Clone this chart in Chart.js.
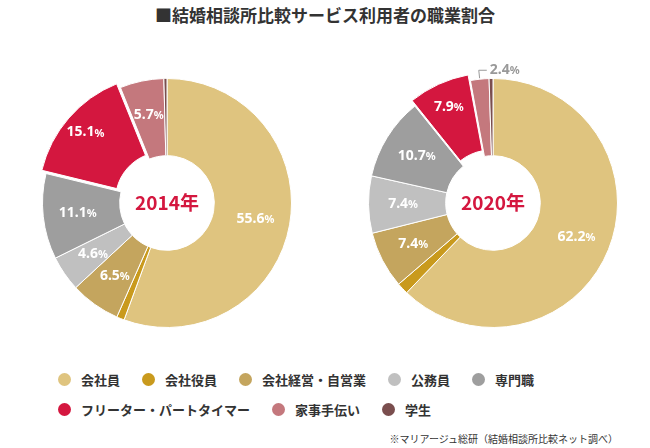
<!DOCTYPE html>
<html><head><meta charset="utf-8">
<script src="https://cdn.jsdelivr.net/npm/chart.js@4"></script>
<style>
body{margin:0;background:#fff;font-family:"Noto Sans CJK JP","Noto Sans",sans-serif;color:#333;}
#wrap{position:relative;width:650px;height:448px;}
#title{position:absolute;top:2px;left:0;width:650px;text-align:center;font-size:17px;font-weight:bold;color:#333;}
.pie{position:absolute;top:58px;width:290px;height:290px;}
#legend{position:absolute;left:58px;top:370px;width:560px;font-size:13px;font-weight:bold;color:#333;}
.row{display:flex;gap:0;margin-bottom:11px;}
.it{display:flex;align-items:center;margin-right:22px;}
.dot{width:13px;height:13px;border-radius:50%;margin-right:10px;}
#note{position:absolute;right:32px;top:431px;font-size:10px;color:#333;}
</style></head>
<body><div id="wrap">
<div id="title">■結婚相談所比較サービス利用者の職業割合</div>
<div class="pie" style="left:22px"><canvas id="c1"></canvas></div>
<div class="pie" style="left:348px"><canvas id="c2"></canvas></div>
<div id="legend"></div>
<div id="note">※マリアージュ総研（結婚相談所比較ネット調べ）</div>
</div>
<script>
const categories = ["会社員","会社役員","会社経営・自営業","公務員","専門職","フリーター・パートタイマー","家事手伝い","学生"];
const values2014 = [55.6, 1.0, 6.5, 4.6, 11.1, 15.1, 5.7, 0.4];
const values2020 = [62.2, 1.5, 7.4, 7.4, 10.7, 7.9, 2.4, 0.5];
const colors = ["#dfc47f","#c99a1d","#c4a55e","#c0c0c0","#9e9e9e","#d4173f","#c4787d","#7a4e4e"];
const offsets2014 = [0,0,0,0,0,18,0,0];
const offsets2020 = [0,0,0,0,0,16,0,0];

const leg = document.getElementById("legend");
[[0,1,2,3,4],[5,6,7]].forEach(r => {
  const row = document.createElement("div"); row.className = "row";
  r.forEach(i => {
    row.innerHTML += `<div class="it"><span class="dot" style="background:${colors[i]}"></span>${categories[i]}</div>`;
  });
  leg.appendChild(row);
});

const labelPlugin = {
  id: "labels",
  afterDraw(chart, args, opts) {
    const ctx = chart.ctx;
    const meta = chart.getDatasetMeta(0);
    const data = chart.data.datasets[0].data;
    ctx.save();
    ctx.textAlign = "center"; ctx.textBaseline = "middle";
    meta.data.forEach((arc, i) => {
      const v = data[i];
      if (v < 2) return;
      const a = (arc.startAngle + arc.endAngle) / 2;
      const off = chart.data.datasets[0].offset[i] || 0;
      const txt = v.toFixed(1);
      if (opts.outside && opts.outside.includes(i)) {
        const r1 = arc.outerRadius + 1, r2 = arc.outerRadius + 9;
        const x1 = arc.x + Math.cos(a) * r1, y1 = arc.y + Math.sin(a) * r1;
        const x2 = arc.x + Math.cos(a) * r2, y2 = arc.y + Math.sin(a) * r2;
        ctx.strokeStyle = "#999"; ctx.lineWidth = 1;
        ctx.beginPath(); ctx.moveTo(x1, y1); ctx.lineTo(x2, y2); ctx.lineTo(x2 + 8, y2); ctx.stroke();
        ctx.textAlign = "left";
        drawPct(ctx, txt, x2 + 11, y2, "#999");
        ctx.textAlign = "center";
        return;
      }
      const r = (arc.innerRadius + arc.outerRadius) / 2 + off + 4;
      drawPct(ctx, txt, arc.x + Math.cos(a) * r, arc.y + Math.sin(a) * r, "#fff");
    });
    ctx.font = "bold 19px 'Noto Sans CJK JP', sans-serif";
    ctx.fillStyle = "#d4173f"; ctx.textAlign = "center";
    ctx.fillText(opts.center, meta.data[0].x, meta.data[0].y);
    ctx.restore();
  }
};
function drawPct(ctx, txt, x, y, color) {
  ctx.fillStyle = color;
  ctx.font = "bold 14px 'Noto Sans', sans-serif";
  const w1 = ctx.measureText(txt).width;
  ctx.font = "bold 11px 'Noto Sans', sans-serif";
  const w2 = ctx.measureText("%").width;
  const left = ctx.textAlign === "left" ? x : x - (w1 + w2) / 2;
  const ta = ctx.textAlign;
  ctx.textAlign = "left";
  ctx.font = "bold 14px 'Noto Sans', sans-serif";
  ctx.fillText(txt, left, y);
  ctx.font = "bold 11px 'Noto Sans', sans-serif";
  ctx.fillText("%", left + w1, y + 1);
  ctx.textAlign = ta;
}

function make(id, values, offsets, center, outside, pad) {
  new Chart(document.getElementById(id), {
    type: "doughnut",
    data: { labels: categories, datasets: [{ data: values, backgroundColor: colors, offset: offsets, borderColor: "#fff", borderWidth: 1 }] },
    options: {
      animation: false, responsive: true, maintainAspectRatio: false, cutout: "38%",
      layout: { padding: pad },
      plugins: { legend: { display: false }, tooltip: { enabled: false }, labels: { center, outside } }
    },
    plugins: [labelPlugin]
  });
}
make("c1", values2014, offsets2014, "2014年", [], 11);
make("c2", values2020, offsets2020, "2020年", [6], 12);
</script>
</body></html>
